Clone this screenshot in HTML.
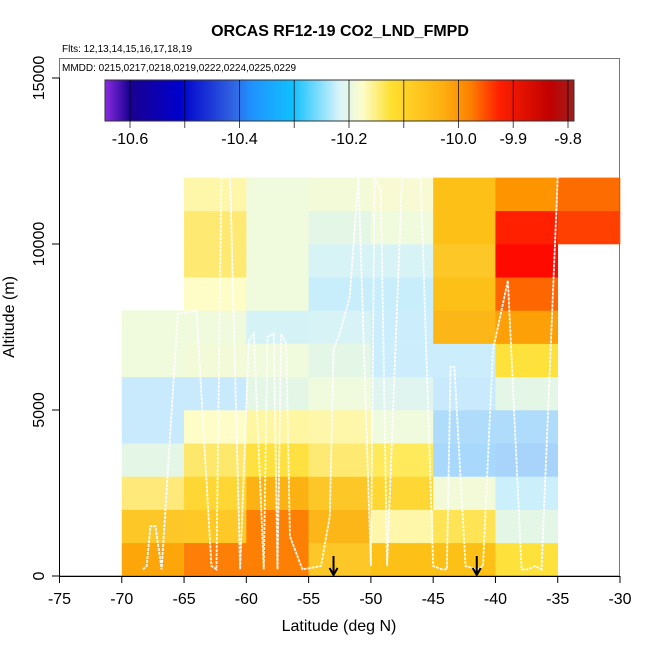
<!DOCTYPE html>
<html><head><meta charset="utf-8"><style>
body{margin:0;background:#fff;}
svg{display:block;font-family:"Liberation Sans",sans-serif;}
</style></head><body>
<svg id="c" width="650" height="650" viewBox="0 0 650 650">
<defs>
<linearGradient id="cb" x1="105" x2="574" y1="0" y2="0" gradientUnits="userSpaceOnUse">
<stop offset="0" stop-color="#8a2be2"/>
<stop offset="0.053" stop-color="#1a0090"/>
<stop offset="0.16" stop-color="#0000cc"/>
<stop offset="0.27" stop-color="#3060e0"/>
<stop offset="0.31" stop-color="#2090ff"/>
<stop offset="0.40" stop-color="#10c0ff"/>
<stop offset="0.50" stop-color="#d8f4fa"/>
<stop offset="0.55" stop-color="#fdfdc8"/>
<stop offset="0.61" stop-color="#fee030"/>
<stop offset="0.72" stop-color="#fdb010"/>
<stop offset="0.78" stop-color="#fd7f00"/>
<stop offset="0.84" stop-color="#ff2000"/>
<stop offset="0.95" stop-color="#c00000"/>
<stop offset="1" stop-color="#a02020"/>
</linearGradient>
</defs>
<g id="cells"></g>
<g id="track"></g>
<g>
<rect x="60" y="59" width="559" height="91" fill="#fff"/>
<text x="62" y="71" font-size="10">MMDD: 0215,0217,0218,0219,0222,0224,0225,0229</text>
<rect x="105" y="80" width="469" height="41" fill="url(#cb)" stroke="#333"/>
<g id="cbt"></g>
</g>
<g id="axes"></g>
<text x="340" y="36" text-anchor="middle" font-size="16" font-weight="bold">ORCAS RF12-19 CO2_LND_FMPD</text>
<text x="62" y="52" font-size="10">Flts: 12,13,14,15,16,17,18,19</text>
<text x="339" y="631" text-anchor="middle" font-size="16">Latitude (deg N)</text>
<text transform="translate(14,317) rotate(-90)" text-anchor="middle" font-size="16">Altitude (m)</text>
</svg>
<script>
const latBins=[-70,-65,-60,-55,-50,-45,-40,-35];
const altBins=[0,1000,2000,3000,4000,5000,6000,7000,8000,9000,10000,11000];
const cellColors=[
 ["#fda60a","#fdc827","#fee97a","#e4f7e6","#c8eafc","#c8eafc","#f0fadc","#f0fadc",null,null,null,null],
 ["#fd7f07","#fec827","#fed734","#fee86b","#fefdc8","#c8eafc","#f2fad8","#f0fadc","#fefdc8","#feea72","#feea72","#fef6a8"],
 ["#fd8004","#fd8004","#fdb213","#fee140","#fef6a0","#e4f7e6","#f0fadc","#d5f3f6","#f0fadc","#f0fadc","#f0fadc","#f0fadc"],
 ["#fdc827","#fdb617","#fdc827","#feea72","#fef6a8","#f0fadc","#e4f7e6","#d8f3f6","#c8eefc","#d8f3f6","#e4f7e6","#f2fad8"],
 ["#fdc017","#fef6a8","#fed734","#feea5a","#f0fadc","#e0f5f0","#cceefc","#cceefc","#c8eefc","#d8f3f6","#f0fadc","#f7fad2"],
 ["#fdc017","#fee355","#f2fad8","#a8d8fc","#b0dcfc","#c8eafc","#cceefc","#fdb617","#fdc017","#fdc827","#fdc017","#fdc017"],
 ["#fee13a","#e4f7e6","#cceffc","#a8d4fc","#b0dcfc","#e4f7e6","#fee13a","#fd9f07","#fd6600","#ff0a00","#ff2000","#fd9400"],
 [null,null,null,null,null,null,null,null,null,null,"#ff4000","#fd6c00"]
];
const xTicks=[-75,-70,-65,-60,-55,-50,-45,-40,-35,-30];
const yTicks=[0,5000,10000,15000];
const cbTicks=[-10.6,-10.5,-10.4,-10.3,-10.2,-10.1,-10.0,-9.9,-9.8];
const cbLabels=["-10.6","","-10.4","","-10.2","","-10.0","-9.9","-9.8"];
const trackLat=[-68.3,-68,-67.7,-67.3,-66.8,-65.5,-64,-62.8,-62.4,-62,-61.3,-60.5,-59.8,-59.4,-58.6,-58.3,-57.8,-57.5,-57.2,-56.8,-56.5,-55.5,-54,-53.3,-53,-52.5,-51.7,-51,-50,-49.7,-49.2,-48.7,-47.5,-46,-45,-44.3,-43.9,-43.6,-43.3,-42.4,-41.5,-41,-40.2,-39,-37.9,-37.4,-36.8,-36.3,-35];
const trackAlt=[200,300,1500,1500,200,7900,8000,300,200,12000,12000,200,7100,7300,200,7200,7300,200,7300,7000,1200,200,300,1800,6800,7300,8400,12000,300,12000,11600,300,12000,12000,300,200,200,6300,6300,300,200,300,6800,8900,200,200,300,200,12000];
const X=v=>59.5+(v+75)*(560.5/45);
const Y=v=>576-v*(498/15000);
const NS="http://www.w3.org/2000/svg";
function mk(t,p){const e=document.createElementNS(NS,t);for(const k in p)e.setAttribute(k,p[k]);return e;}
const cells=document.getElementById('cells');
latBins.forEach((lat,i)=>altBins.forEach((alt,j)=>{
 const c=cellColors[i][j]; if(!c) return;
 const r=mk('rect',{x:X(lat),y:Y(alt+1000),width:X(lat+5)-X(lat)+0.3,height:Y(alt)-Y(alt+1000)+0.3,fill:c});
 
 
 cells.appendChild(r);
}));
const tr=document.getElementById('track');
const pts=trackLat.map((v,i)=>X(v)+','+Y(trackAlt[i])).join(' ');
const pl=mk('polyline',{points:pts,fill:'none',stroke:'#fff','stroke-width':1.8,'stroke-dasharray':'3,1','stroke-opacity':0.95});


tr.appendChild(pl);
const ax=document.getElementById('axes');
ax.appendChild(mk('rect',{x:59.5,y:58.5,width:560,height:517.5,fill:'none',stroke:'#777'}));
ax.appendChild(mk('line',{x1:X(-75),x2:X(-30),y1:576.5,y2:576.5,stroke:'#000'}));
xTicks.forEach(v=>{
 ax.appendChild(mk('line',{x1:X(v),x2:X(v),y1:576,y2:583,stroke:'#000'}));
 const t=mk('text',{x:X(v),y:604,'text-anchor':'middle','font-size':16});t.textContent=v;
 
 
 ax.appendChild(t);
});
ax.appendChild(mk('line',{x1:59.5,x2:59.5,y1:Y(0),y2:Y(15000),stroke:'#000'}));
yTicks.forEach(v=>{
 ax.appendChild(mk('line',{x1:52,x2:59.5,y1:Y(v),y2:Y(v),stroke:'#000'}));
 const t=mk('text',{transform:`translate(44,${Y(v)}) rotate(-90)`,'text-anchor':'middle','font-size':16});t.textContent=v;
 
 
 ax.appendChild(t);
});
[-53,-41.5].forEach(v=>{
 const g=mk('path',{d:`M${X(v)},556 L${X(v)},575 M${X(v)-4},568 L${X(v)},575 L${X(v)+4},568`,stroke:'#000','stroke-width':2,fill:'none'});
 
 
 ax.appendChild(g);
});
const cbt=document.getElementById('cbt');
const CX=v=>130+(v+10.6)*(438/0.8);
cbTicks.forEach((v,i)=>{
 cbt.appendChild(mk('line',{x1:CX(v),x2:CX(v),y1:80,y2:128,stroke:'#000','stroke-opacity':0.7}));
 if(cbLabels[i]){const t=mk('text',{x:CX(v),y:144,'text-anchor':'middle','font-size':16});t.textContent=cbLabels[i];
 
 
 cbt.appendChild(t);}
});
</script>
</body></html>
